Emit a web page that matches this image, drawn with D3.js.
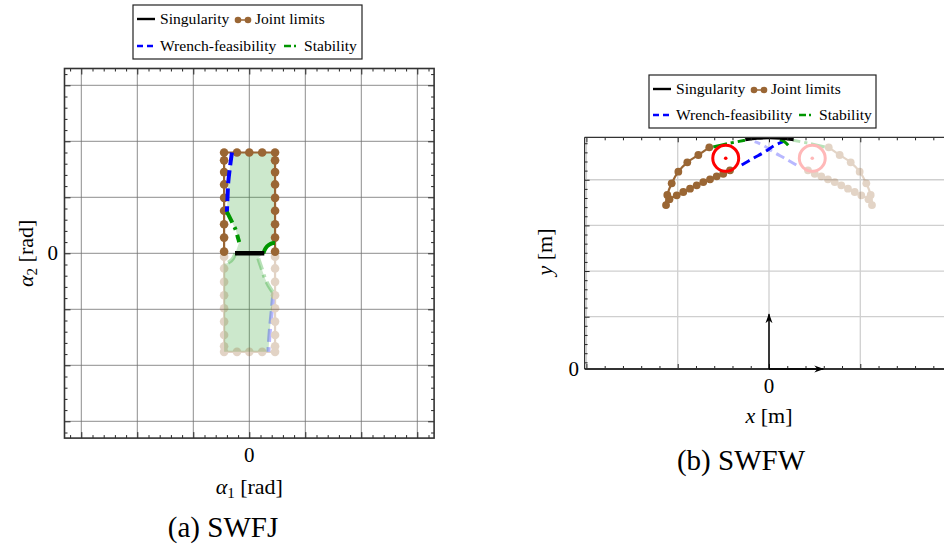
<!DOCTYPE html>
<html><head><meta charset="utf-8">
<script src="https://cdn.jsdelivr.net/npm/d3@7"></script>
<style>
body{margin:0;background:#fff}
svg{display:block}
text{font-family:"Liberation Serif","Times New Roman",serif;fill:#000}
</style>
</head><body>
<svg id="c" width="944" height="550"></svg>
<script>
// ================= DATA =================
// Legend entries
const legendLabels = ["Singularity", "Joint limits", "Wrench-feasibility", "Stability"];
const captions = ["(a) SWFJ", "(b) SWFW"];
const tickLabelsA = {x: ["0"], y: ["0"]};
const tickLabelsB = {x: ["0"], y: ["0"]};

// ---- Panel (a): joint space [rad]
const jointLeftA = -0.45, jointRightA = 0.46, jointTopA = 1.80, jointBottomA = -1.76;
const jointTopDotsXA = [-0.45, -0.22, 0.0, 0.23, 0.46];
const jointSideDotsYUpperA = [1.66, 1.45, 1.23, 0.99, 0.76, 0.52, 0.28, 0.03];
const jointSideDotsYLowerA = [-0.06, -0.27, -0.51, -0.75, -0.98, -1.22, -1.46, -1.66, -1.76];
const jointBottomDotsXA = [-0.22, 0.0, 0.23];
const wrenchUpperA = [[-0.31,1.80],[-0.34,1.58],[-0.375,1.28],[-0.39,0.98],[-0.40,0.74]];
const stabUpperA = [[-0.40,0.74],[-0.31,0.56],[-0.24,0.41],[-0.20,0.27],[-0.18,0.20]];
const stabArcUpperA = [[0.25,0.0],[0.29,0.09],[0.35,0.15],[0.41,0.18],[0.46,0.18]];
const singularA = [[-0.255,0.0],[0.268,0.0]];
const stabLowerA = [[0.16,-0.09],[0.22,-0.27],[0.28,-0.45],[0.34,-0.57],[0.43,-0.71]];
const wrenchLowerA = [[0.43,-0.71],[0.40,-1.04],[0.37,-1.34],[0.34,-1.76]];
const stabArcLowerA = [[-0.25,0.0],[-0.29,-0.09],[-0.35,-0.15],[-0.41,-0.18],[-0.46,-0.18]];

// ---- Panel (b): workspace [m]
const jointInnerB = [[-0.427,2.176],[-0.501,2.139],[-0.573,2.111],[-0.646,2.078],[-0.720,2.048],[-0.792,2.012],[-0.865,1.975],[-0.939,1.939],[-1.011,1.902],[-1.090,1.860]];
const jointOuterB = [[-1.128,1.796],[-1.114,1.906],[-1.066,2.034],[-0.993,2.161],[-0.895,2.264],[-0.774,2.344],[-0.654,2.428]];
const circleB = {x: -0.474, y: 2.308, r: 0.142};
const wrenchB = [[-0.299,2.234],[-0.172,2.308],[-0.044,2.380],[0.066,2.453],[0.157,2.490]];
const stabB = [[-0.610,2.432],[-0.45,2.470],[-0.263,2.505]];
const stabHookB = [[0.12,2.512],[0.17,2.490],[0.21,2.452]];
const singularB = [[-0.26,2.515],[-0.13,2.530],[0.0,2.535],[0.13,2.530],[0.27,2.515]];
const frameArrowsB = [[0.0,0.60],[0.595,0.0]];

// Colours
const C = {brown:"#9a6634", blue:"#0000ff", green:"#009600", red:"#ff0000", fill:"rgb(51,163,51)"};
const FADE = 0.28;

// ================= DRAW =================
const svg = d3.select("#c");

const xA = d3.scaleLinear().domain([-3.3,3.3]).range([64.5,434.1]);
const yA = d3.scaleLinear().domain([-3.3,3.3]).range([438.1,68.5]);
const xB = d3.scaleLinear().domain([-2.02,2.02]).range([584.6,953.4]);
const yB = d3.scaleLinear().domain([0,2.538]).range([369,137.3]);

const majorA = d3.range(-3,3.01,1);
const minorA = d3.range(-3.2,3.21,0.2).filter(v=>Math.abs(v-Math.round(v))>0.05);
const majorXB = [-2,-1,0,1,2];
const minorXB = d3.range(-2.0,2.01,0.2).filter(v=>Math.abs(v-Math.round(v))>0.05);
const majorYB = [0.573,1.073,1.573,2.073];
const minorYB = d3.range(0.073,2.5,0.1).filter(v=>!majorYB.some(m=>Math.abs(m-v)<0.01));

const defs = svg.append("defs");
defs.append("clipPath").attr("id","clipA").append("rect")
  .attr("x",xA(-3.3)).attr("y",yA(3.3)).attr("width",xA(3.3)-xA(-3.3)).attr("height",yA(-3.3)-yA(3.3));
defs.append("clipPath").attr("id","clipB").append("rect")
  .attr("x",xB(-2.02)).attr("y",yB(2.538)).attr("width",xB(2.02)-xB(-2.02)).attr("height",yB(0)-yB(2.538));
defs.append("marker").attr("id","arr").attr("viewBox","0 0 10 10").attr("refX",9).attr("refY",5)
  .attr("markerWidth",10).attr("markerHeight",10).attr("markerUnits","userSpaceOnUse").attr("orient","auto")
  .append("path").attr("d","M0,1.5 L10,5 L0,8.5 L3,5 Z").attr("fill","#000");

function ticks(g, x, y, xs, ys, len, sides){
  const xr = x.range(), yr = y.range();
  if(sides.includes("b")) g.append("g").attr("transform",`translate(0,${yr[0]})`)
    .call(d3.axisBottom(x).tickValues(xs).tickSize(-len).tickFormat("")).call(a=>a.select(".domain").remove());
  if(sides.includes("t")) g.append("g").attr("transform",`translate(0,${yr[1]})`)
    .call(d3.axisTop(x).tickValues(xs).tickSize(-len).tickFormat("")).call(a=>a.select(".domain").remove());
  if(sides.includes("l")) g.append("g").attr("transform",`translate(${xr[0]},0)`)
    .call(d3.axisLeft(y).tickValues(ys).tickSize(-len).tickFormat("")).call(a=>a.select(".domain").remove());
  if(sides.includes("r")) g.append("g").attr("transform",`translate(${xr[1]},0)`)
    .call(d3.axisRight(y).tickValues(ys).tickSize(-len).tickFormat("")).call(a=>a.select(".domain").remove());
  g.selectAll(".tick line").attr("stroke","#222").attr("stroke-width",1);
}

// ---------- Panel A ----------
const gA = svg.append("g");
const gAc = gA.append("g").attr("clip-path","url(#clipA)");
// grid
gAc.selectAll(".gx").data(majorA).join("line").attr("x1",d=>xA(d)).attr("x2",d=>xA(d))
  .attr("y1",yA(-3.3)).attr("y2",yA(3.3)).attr("stroke","#707070").attr("stroke-width",0.8);
gAc.selectAll(".gy").data(majorA).join("line").attr("y1",d=>yA(d)).attr("y2",d=>yA(d))
  .attr("x1",xA(-3.3)).attr("x2",xA(3.3)).attr("stroke","#707070").attr("stroke-width",0.8);

const lA = d3.line().x(d=>xA(d[0])).y(d=>yA(d[1]));
const lAc = d3.line().x(d=>xA(d[0])).y(d=>yA(d[1])).curve(d3.curveCatmullRom);

// feasible region fill
const region = [].concat(
  [[wrenchUpperA[0][0], jointTopA],[jointRightA, jointTopA]],
  stabArcUpperA.slice().reverse(),
  stabLowerA,
  wrenchLowerA.slice(1),
  [[jointLeftA, jointBottomA]],
  stabArcLowerA.slice().reverse(),
  stabUpperA.slice().reverse(),
  wrenchUpperA.slice().reverse().slice(1)
);
gAc.append("path").attr("d",lA(region)+"Z").attr("fill",C.fill).attr("fill-opacity",0.25);

// faded (lower half) lines
const fadeA = gAc.append("g").attr("opacity",FADE);
fadeA.append("path").attr("d",lA([[jointLeftA,0],[jointLeftA,jointBottomA],[jointRightA,jointBottomA],[jointRightA,0]]))
  .attr("fill","none").attr("stroke",C.brown).attr("stroke-width",2.2);
fadeA.append("path").attr("d",lAc(stabLowerA)).attr("fill","none").attr("stroke",C.green).attr("stroke-width",4).attr("stroke-dasharray","12,5,3,5");
fadeA.append("path").attr("d",lAc(wrenchLowerA)).attr("fill","none").attr("stroke",C.blue).attr("stroke-width",4).attr("stroke-dasharray","13,5");
fadeA.append("path").attr("d",lAc(stabArcLowerA)).attr("fill","none").attr("stroke",C.green).attr("stroke-width",4).attr("stroke-dasharray","12,5,3,5");
const lowerDots = [].concat(
  jointSideDotsYLowerA.map(v=>[jointLeftA,v]), jointSideDotsYLowerA.map(v=>[jointRightA,v]),
  jointBottomDotsXA.map(v=>[v,jointBottomA]));
fadeA.selectAll("circle").data(lowerDots).join("circle").attr("cx",d=>xA(d[0])).attr("cy",d=>yA(d[1])).attr("r",4.3).attr("fill",C.brown);

// solid (upper half)
gAc.append("path").attr("d",lA([[jointLeftA,0],[jointLeftA,jointTopA],[jointRightA,jointTopA],[jointRightA,0]]))
  .attr("fill","none").attr("stroke",C.brown).attr("stroke-width",2.2);
const upperDots = [].concat(
  jointTopDotsXA.map(v=>[v,jointTopA]),
  jointSideDotsYUpperA.map(v=>[jointLeftA,v]), jointSideDotsYUpperA.map(v=>[jointRightA,v]));
gAc.selectAll("circle.u").data(upperDots).join("circle").attr("class","u").attr("cx",d=>xA(d[0])).attr("cy",d=>yA(d[1])).attr("r",4.3).attr("fill",C.brown);
gAc.append("path").attr("d",lAc(wrenchUpperA)).attr("fill","none").attr("stroke",C.blue).attr("stroke-width",4).attr("stroke-dasharray","13,5");
gAc.append("path").attr("d",lAc(stabUpperA)).attr("fill","none").attr("stroke",C.green).attr("stroke-width",4).attr("stroke-dasharray","12,5,3,5");
gAc.append("path").attr("d",lAc(stabArcUpperA)).attr("fill","none").attr("stroke",C.green).attr("stroke-width",4);
gAc.append("path").attr("d",lA(singularA)).attr("fill","none").attr("stroke","#000").attr("stroke-width",4.5);

// ticks and frame
ticks(gA, xA, yA, minorA, minorA, 3, "btlr");
ticks(gA, xA, yA, majorA, majorA, 6, "btlr");
gA.append("rect").attr("x",xA(-3.3)).attr("y",yA(3.3)).attr("width",xA(3.3)-xA(-3.3)).attr("height",yA(-3.3)-yA(3.3))
  .attr("fill","none").attr("stroke","#333").attr("stroke-width",1.6);

// labels
gA.append("text").attr("x",xA(0)).attr("y",462).attr("text-anchor","middle").attr("font-size",21).text(tickLabelsA.x[0]);
gA.append("text").attr("x",58).attr("y",yA(0)+7).attr("text-anchor","end").attr("font-size",21).text(tickLabelsA.y[0]);
const xlabA = gA.append("text").attr("x",xA(0)).attr("y",494).attr("text-anchor","middle").attr("font-size",22);
xlabA.append("tspan").attr("font-style","italic").text("α");
xlabA.append("tspan").attr("font-size",15).attr("dy",4).text("1");
xlabA.append("tspan").attr("dy",-4).text(" [rad]");
const ylabA = gA.append("text").attr("transform",`translate(33,${yA(0)}) rotate(-90)`).attr("text-anchor","middle").attr("font-size",22);
ylabA.append("tspan").attr("font-style","italic").text("α");
ylabA.append("tspan").attr("font-size",15).attr("dy",4).text("2");
ylabA.append("tspan").attr("dy",-4).text(" [rad]");
gA.append("text").attr("x",223).attr("y",537).attr("text-anchor","middle").attr("font-size",29).text(captions[0]);

// ---------- Panel B ----------
const gB = svg.append("g");
const gBc = gB.append("g").attr("clip-path","url(#clipB)");
gBc.selectAll(".gx").data(majorXB).join("line").attr("x1",d=>xB(d)).attr("x2",d=>xB(d))
  .attr("y1",yB(0)).attr("y2",yB(2.538)).attr("stroke","#cfcfcf").attr("stroke-width",1.3);
gBc.selectAll(".gy").data(majorYB).join("line").attr("y1",d=>yB(d)).attr("y2",d=>yB(d))
  .attr("x1",xB(-2.02)).attr("x2",xB(2.02)).attr("stroke","#cfcfcf").attr("stroke-width",1.3);

const lB = d3.line().x(d=>xB(d[0])).y(d=>yB(d[1])).curve(d3.curveCatmullRom);
const mir = a => a.map(d=>[-d[0],d[1]]);
const loopB = jointInnerB.concat(jointOuterB);

function drawSetB(g, sgn){
  const f = sgn>0 ? (a=>a) : mir;
  g.append("path").attr("d",lB(f(loopB))).attr("fill","none").attr("stroke",C.brown).attr("stroke-width",2.2);
  g.selectAll("circle.jd").data(f(loopB)).join("circle").attr("class","jd")
    .attr("cx",d=>xB(d[0])).attr("cy",d=>yB(d[1])).attr("r",3.9).attr("fill",C.brown);
  g.append("path").attr("d",lB(f(wrenchB))).attr("fill","none").attr("stroke",C.blue).attr("stroke-width",3).attr("stroke-dasharray","9,5");
  g.append("path").attr("d",lB(f(stabB))).attr("fill","none").attr("stroke",C.green).attr("stroke-width",3).attr("stroke-dasharray","14,4,3,4");
  g.append("circle").attr("cx",xB(sgn*circleB.x)).attr("cy",yB(circleB.y)).attr("r",xB(circleB.r)-xB(0))
    .attr("fill","none").attr("stroke",C.red).attr("stroke-width",3);
  g.append("circle").attr("cx",xB(sgn*circleB.x)).attr("cy",yB(circleB.y)).attr("r",1.8).attr("fill",C.red);
}
drawSetB(gBc.append("g").attr("opacity",FADE), -1);
drawSetB(gBc.append("g"), 1);
gBc.append("path").attr("d",lB(stabHookB)).attr("fill","none").attr("stroke",C.green).attr("stroke-width",3);
gBc.append("path").attr("d",lB(singularB)).attr("fill","none").attr("stroke","#000").attr("stroke-width",3.5);

ticks(gB, xB, yB, minorXB, minorYB, 3, "btl");
ticks(gB, xB, yB, majorXB, majorYB, 5, "btl");
gB.append("line").attr("x1",xB(-2.02)).attr("x2",944).attr("y1",yB(0)).attr("y2",yB(0)).attr("stroke","#333").attr("stroke-width",1.8);
gB.append("line").attr("x1",xB(-2.02)).attr("x2",944).attr("y1",yB(2.538)).attr("y2",yB(2.538)).attr("stroke","#333").attr("stroke-width",1.2);
gB.append("line").attr("x1",xB(-2.02)).attr("x2",xB(-2.02)).attr("y1",yB(0)).attr("y2",yB(2.538)).attr("stroke","#333").attr("stroke-width",1.2);

// arrows (world frame), drawn above the frame
gB.selectAll("line.ar").data(frameArrowsB).join("line").attr("class","ar")
  .attr("x1",xB(0)).attr("y1",yB(0)).attr("x2",d=>xB(d[0])).attr("y2",d=>yB(d[1]))
  .attr("stroke","#000").attr("stroke-width",1.5).attr("marker-end","url(#arr)");

gB.append("text").attr("x",xB(0)).attr("y",393).attr("text-anchor","middle").attr("font-size",21).text(tickLabelsB.x[0]);
gB.append("text").attr("x",579).attr("y",yB(0)+7).attr("text-anchor","end").attr("font-size",21).text(tickLabelsB.y[0]);
const xlabB = gB.append("text").attr("x",xB(0)).attr("y",423).attr("text-anchor","middle").attr("font-size",22);
xlabB.append("tspan").attr("font-style","italic").text("x");
xlabB.append("tspan").text(" [m]");
const ylabB = gB.append("text").attr("transform",`translate(552,252) rotate(-90)`).attr("text-anchor","middle").attr("font-size",22);
ylabB.append("tspan").attr("font-style","italic").text("y");
ylabB.append("tspan").text(" [m]");
gB.append("text").attr("x",741).attr("y",470).attr("text-anchor","middle").attr("font-size",29).text(captions[1]);

// ---------- Legends ----------
function legend(x0, y0, w, h, row1y, row2y, col2a, col2b){
  const g = svg.append("g");
  g.append("rect").attr("x",x0).attr("y",y0).attr("width",w).attr("height",h).attr("fill","#fff").attr("stroke","#222").attr("stroke-width",1.2);
  const fs = 15.6;
  // row 1
  g.append("line").attr("x1",x0+4).attr("x2",x0+22).attr("y1",row1y).attr("y2",row1y).attr("stroke","#000").attr("stroke-width",2.4);
  g.append("text").attr("x",x0+27).attr("y",row1y+5).attr("font-size",fs).text(legendLabels[0]);
  g.append("line").attr("x1",col2a).attr("x2",col2a+10).attr("y1",row1y+1).attr("y2",row1y+1).attr("stroke",C.brown).attr("stroke-width",1.5);
  g.selectAll("circle").data([0,10]).join("circle").attr("cx",d=>col2a+d).attr("cy",row1y+1).attr("r",3.3).attr("fill",C.brown);
  g.append("text").attr("x",col2a+17).attr("y",row1y+5).attr("font-size",fs).text(legendLabels[1]);
  // row 2
  g.append("line").attr("x1",x0+4).attr("x2",x0+22).attr("y1",row2y).attr("y2",row2y).attr("stroke",C.blue).attr("stroke-width",2.4).attr("stroke-dasharray","6,4");
  g.append("text").attr("x",x0+27).attr("y",row2y+5).attr("font-size",fs).text(legendLabels[2]);
  g.append("line").attr("x1",col2b).attr("x2",col2b+15).attr("y1",row2y).attr("y2",row2y).attr("stroke",C.green).attr("stroke-width",2.4).attr("stroke-dasharray","7,3,2,3");
  g.append("text").attr("x",col2b+20).attr("y",row2y+5).attr("font-size",fs).text(legendLabels[3]);
}
legend(133, 5, 229, 54, 19, 46, 238, 284);
legend(649, 75, 227, 53, 89, 115, 754, 799);
</script>
</body></html>
